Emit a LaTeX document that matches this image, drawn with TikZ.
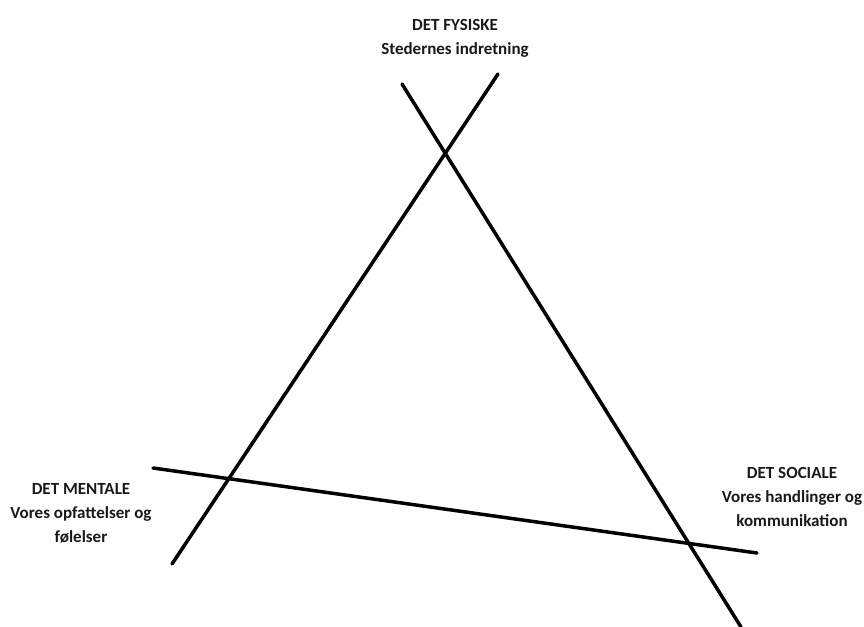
\documentclass[tikz,border=0pt]{standalone}
\usepackage{fontspec}
\setmainfont{Carlito}
\begin{document}
\begin{tikzpicture}[x=1pt,y=-1pt,
  axisline/.style={line width=3.5pt,black,line cap=round},
  lbl/.style={align=center,inner sep=0pt,anchor=north,
    font=\bfseries\fontsize{17}{24}\selectfont,text=black!90}]
\useasboundingbox (0,0) rectangle (864,626);
\coordinate (a1) at (172,564);
\coordinate (a2) at (498,74);
\coordinate (b1) at (402,84);
\coordinate (b2) at (741,627);
\coordinate (c1) at (153,468);
\coordinate (c2) at (757,553);
\draw[axisline] (a1) -- (a2);
\draw[axisline] (b1) -- (b2);
\draw[axisline] (c1) -- (c2);
\node[lbl] (fys) at (455,19) {DET FYSISKE\\Stedernes indretning};
\node[lbl] (men) at (81,483) {DET MENTALE\\Vores opfattelser og\\følelser};
\node[lbl] (soc) at (792,467) {DET SOCIALE\\Vores handlinger og\\kommunikation};
\end{tikzpicture}
\end{document}
